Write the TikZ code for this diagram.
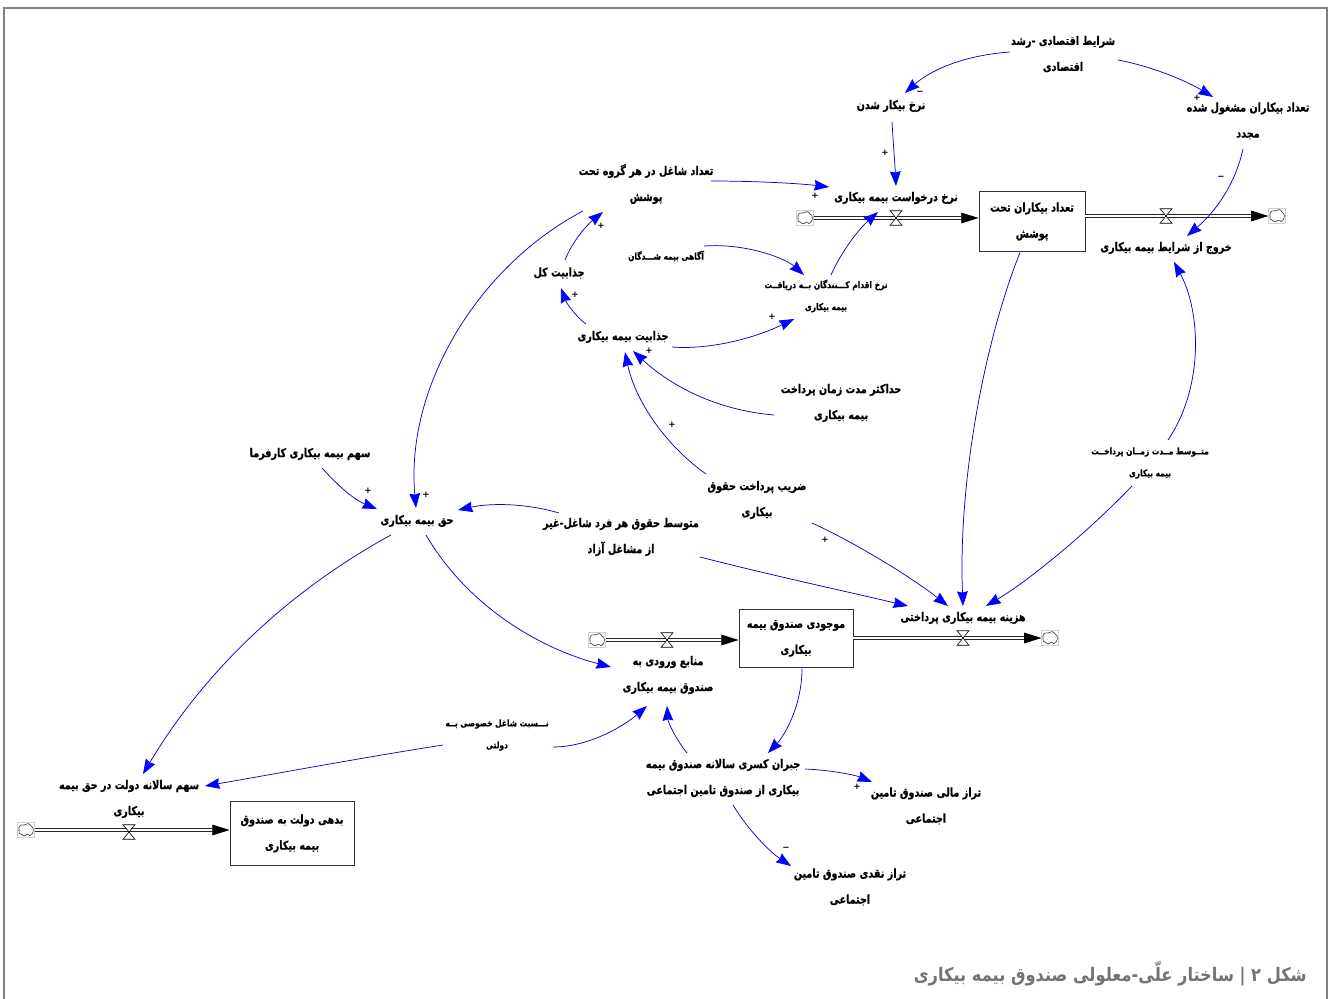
\documentclass[tikz,border=0pt]{standalone}
\usepackage{fontspec}
\usetikzlibrary{arrows.meta}
\TeXXeTstate=1
\newfontfamily\ar[Script=Arabic,FakeStretch=0.8,BoldFeatures={FakeStretch=0.8,FakeBold=0.6}]{DejaVu Sans}
\newfontfamily\arcap[Script=Arabic,FakeStretch=0.87]{DejaVu Sans}
\newfontfamily\signfont{DejaVu Sans}
\newcommand{\rl}[1]{\raisebox{-0.75pt}{\beginR #1\endR}}
\newcommand{\lnk}[6]{\draw[linkline] ([shift={(#2)}]#1.center) .. controls (#3) and (#4) .. ([shift={(#6)}]#5.center);}
\newcommand{\cloudsrc}[2]{%
  \node[cloudbox] (#1) at (#2) {};
  \draw[shift={(#2)},draw=black!80,line width=0.45pt,fill=white] (-7,1) .. controls (-8,-4) and (-5,-6) .. (-2,-5) .. controls (0,-7) and (4,-7) .. (5,-4) .. controls (8,-3) and (8,2) .. (6,4) .. controls (5,6) and (3,6) .. (1,4) .. controls (-1,7) and (-4,6) .. (-5,4) .. controls (-7,4) and (-7,3) .. cycle;}
\newcommand{\valvemark}[2]{%
  \node[valvebox] (#1) at (#2) {};
  \draw[line width=0.45pt,fill=white] (#1.north west) -- (#1.north east) -- (#1.south west) -- (#1.south east) -- cycle;}
\tikzset{
  vartext/.style={font=\ar\bfseries\fontsize{9}{19.5}\selectfont,align=center,inner sep=1pt},
  smalltext/.style={font=\ar\bfseries\fontsize{7}{16.5}\selectfont,align=center,inner sep=1pt},
  stockbox/.style={vartext,draw=black!80,line width=0.6pt,fill=white},
  linkline/.style={draw=blue!85!black,line width=0.55pt,-{Stealth[inset=1pt,length=11pt,width=8pt,fill=blue,color=blue]}},
  pipeline/.style={draw=black!85,line width=0.6pt,double=white,double distance=2.2pt,-{Triangle[length=13pt,width=8pt,fill=black,color=black]}},
  cloudbox/.style={draw=black!18,line width=0.4pt,minimum width=12.5pt,minimum height=11pt,inner sep=0pt,fill=white},
  valvebox/.style={minimum width=8.5pt,minimum height=10.5pt,inner sep=0pt},
  sign/.style={font=\signfont\bfseries\fontsize{6.5}{7}\selectfont,inner sep=0pt},
}
\begin{document}
\begin{tikzpicture}[x=0.75pt,y=-0.75pt]
\path[use as bounding box,fill=white] (0,0) rectangle (1328,999);
\draw[black!50,line width=1.2pt] (4,999) -- (4,8) -- (1327,8) -- (1327,999);

% stocks
\node[stockbox,minimum width=79.5pt,minimum height=45.5pt] (st1) at (1032,221.5) {\rl{تعداد بیکاران تحت}\\\rl{پوشش}};
\node[stockbox,minimum width=85.5pt,minimum height=44pt] (st2) at (796,638.5) {\rl{موجودی صندوق بیمه}\\\rl{بیکاری}};
\node[stockbox,minimum width=93pt,minimum height=48.5pt] (st3) at (292,833.5) {\rl{بدهی دولت به صندوق}\\\rl{بیمه بیکاری}};

% variables
\node[vartext] (shart) at (1063,54) {\rl{شرایط اقتصادی -رشد}\\\rl{اقتصادی}};
\node[vartext] (nerkhb) at (891,106) {\rl{نرخ بیکار شدن}};
\node[vartext] (mashg) at (1248,121) {\rl{تعداد بیکاران مشغول شده}\\\rl{مجدد}};
\node[vartext] (darkh) at (896,198) {\rl{نرخ درخواست بیمه بیکاری}};
\node[vartext] (khor) at (1166,248) {\rl{خروج از شرایط بیمه بیکاری}};
\node[vartext] (shagh) at (646,184) {\rl{تعداد شاغل در هر گروه تحت}\\\rl{پوشش}};
\node[vartext] (jkol) at (559,273) {\rl{جذابیت کل}};
\node[smalltext] (agah) at (666,256) {\rl{آگاهی بیمه شـــدگان}};
\node[smalltext] (eghd) at (826,296) {\rl{نرخ اقدام کـــنندگان بــه دریافــت}\\\rl{بیمه بیکاری}};
\node[vartext] (jaz) at (623,337) {\rl{جذابیت بیمه بیکاری}};
\node[vartext] (hada) at (841,403) {\rl{حداکثر مدت زمان پرداخت}\\\rl{بیمه بیکاری}};
\node[vartext] (zar) at (757,500) {\rl{ضریب پرداخت حقوق}\\\rl{بیکاری}};
\node[smalltext] (mmod) at (1150,463) {\rl{متــوسط مــدت زمــان پرداخــت}\\\rl{بیمه بیکاری}};
\node[vartext] (karf) at (310,454) {\rl{سهم بیمه بیکاری کارفرما}};
\node[vartext] (hagh) at (417,521) {\rl{حق بیمه بیکاری}};
\node[vartext] (mhog) at (621,537) {\rl{متوسط حقوق هر فرد شاغل-غیر}\\\rl{از مشاغل آزاد}};
\node[vartext] (haz) at (963,618) {\rl{هزینه بیمه بیکاری پرداختی}};
\node[vartext] (man) at (668,675) {\rl{منابع ورودی به}\\\rl{صندوق بیمه بیکاری}};
\node[smalltext] (nesb) at (497,735) {\rl{نـــسبت شاغل خصوصی بــه}\\\rl{دولتی}};
\node[vartext] (job) at (723,778) {\rl{جبران کسری سالانه صندوق بیمه}\\\rl{بیکاری از صندوق تامین اجتماعی}};
\node[vartext] (tmal) at (926,806) {\rl{تراز مالی صندوق تامین}\\\rl{اجتماعی}};
\node[vartext] (tnag) at (850,887) {\rl{تراز نقدی صندوق تامین}\\\rl{اجتماعی}};
\node[vartext] (sdol) at (129,799) {\rl{سهم سالانه دولت در حق بیمه}\\\rl{بیکاری}};

% flows
\cloudsrc{c1}{805,218}
\cloudsrc{c2}{1277,216}
\cloudsrc{c3}{597,640}
\cloudsrc{c4}{1050,638}
\cloudsrc{c5}{26,830}
\draw[pipeline] (c1.east) -- (c1.east -| st1.west);
\draw[pipeline] (st1.east |- c2.west) -- (c2.west);
\draw[pipeline] (c3.east) -- (c3.east -| st2.west);
\draw[pipeline] (st2.east |- c4.west) -- (c4.west);
\draw[pipeline] (c5.east) -- (c5.east -| st3.west);
\valvemark{v1}{896,218}
\valvemark{v2}{1166,216}
\valvemark{v3}{667,640}
\valvemark{v4}{963,638}
\valvemark{v5}{129,832}

% connectors
\lnk{shart}{-53,-2}{955,56}{925,75}{nerkhb}{14,-13}
\lnk{shart}{55,6}{1150,66}{1185,80}{mashg}{-35,-24}
\lnk{nerkhb}{1,16}{893,140}{895,165}{darkh}{0,-12}
\lnk{shagh}{65,-3}{750,181}{795,183}{darkh}{-67,-11}
\lnk{eghd}{5,-21}{842,250}{860,228}{darkh}{-18,14}
\lnk{agah}{38,-10}{745,243}{785,258}{eghd}{-22,-21}
\lnk{jaz}{-37,-13}{575,316}{566,302}{jkol}{2,15}
\lnk{jkol}{6,-13}{573,240}{588,224}{shagh}{-43,28}
\lnk{jaz}{49,10}{710,350}{755,338}{eghd}{-32,23}
\lnk{hada}{-67,12}{715,410}{670,385}{jaz}{10,14}
\lnk{zar}{-51,-26}{665,445}{635,400}{jaz}{2,15}
\lnk{shagh}{-63,27}{480,265}{405,385}{hagh}{-1,-13}
\lnk{karf}{12,14}{340,488}{355,500}{hagh}{-40,-12}
\lnk{mhog}{-62,-24}{525,503}{490,503}{hagh}{41,-11}
\lnk{hagh}{-26,14}{290,590}{205,670}{sdol}{14,-25}
\lnk{hagh}{9,14}{470,610}{545,650}{man}{-57,-8}
\lnk{nesb}{-54,10}{360,758}{280,773}{sdol}{76,-13}
\lnk{nesb}{56,12}{590,747}{625,725}{man}{-21,31}
\lnk{job}{-36,-25}{675,738}{668,722}{man}{-1,31}
\lnk{st2}{6,30}{802,705}{785,735}{job}{45,-25}
\lnk{job}{82,-9}{830,770}{855,775}{tmal}{-54,-24}
\lnk{job}{10,27}{748,830}{770,852}{tnag}{-59,-21}
\lnk{st1}{-12,31}{985,340}{958,480}{haz}{0,-12}
\lnk{zar}{55,23}{860,545}{915,580}{haz}{-15,-12}
\lnk{mhog}{79,20}{770,575}{840,590}{haz}{-55,-12}
\lnk{mmod}{-18,23}{1090,530}{1030,580}{haz}{23,-12}
\lnk{mmod}{18,-23}{1205,385}{1200,310}{khor}{8,14}
\lnk{mashg}{-5,28}{1235,185}{1215,212}{khor}{21,-12}

% polarity signs
\node[sign] (s1) at (920,93) {−};
\node[sign] (s2) at (1197,98) {+};
\node[sign] (s3) at (885,153) {+};
\node[sign] (s4) at (815,196) {+};
\node[sign] (s5) at (1221,178) {−};
\node[sign] (s6) at (601,226) {+};
\node[sign] (s7) at (575,295) {+};
\node[sign] (s8) at (772,317) {+};
\node[sign] (s9) at (649,351) {+};
\node[sign] (s10) at (672,425) {+};
\node[sign] (s11) at (368,491) {+};
\node[sign] (s12) at (426,495) {+};
\node[sign] (s13) at (825,540) {+};
\node[sign] (s14) at (857,787) {+};
\node[sign] (s15) at (786,849) {−};

% caption
\node[anchor=east,inner sep=0pt,text=black!55,font=\arcap\bfseries\fontsize{14}{16}\selectfont] (cap) at (1307,974) {\rl{شکل ۲ | ساختار علّی-معلولی صندوق بیمه بیکاری}};
\end{tikzpicture}
\end{document}
